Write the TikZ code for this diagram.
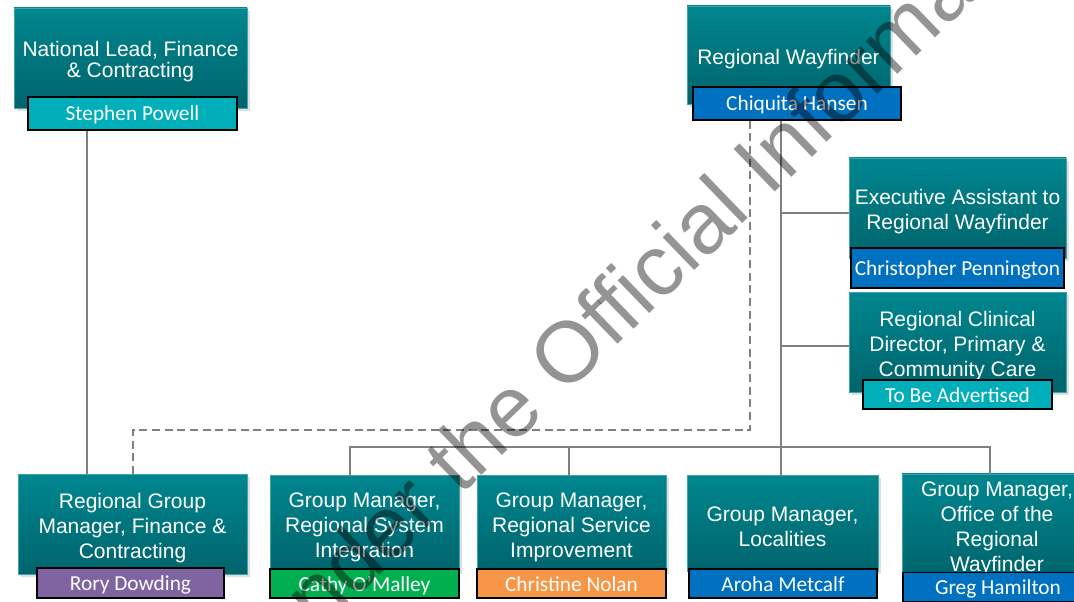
\documentclass[tikz,border=0pt]{standalone}
\usepackage{fontspec}
\setmainfont{Liberation Sans}
\newfontfamily\namefont{Carlito}
\usetikzlibrary{shadows}
\usetikzlibrary{positioning}
\usetikzlibrary{calc}
\definecolor{tealtop}{HTML}{00868F}
\definecolor{tealbot}{HTML}{00646C}
\definecolor{cyanname}{HTML}{00AFBA}
\definecolor{bluename}{HTML}{0070C0}
\definecolor{greenname}{HTML}{00B050}
\definecolor{orangename}{HTML}{F79646}
\definecolor{purplename}{HTML}{8064A2}
\definecolor{linkgray}{HTML}{808080}
\newcommand\toplift{\rule{0pt}{17pt}}

\begin{document}
\begin{tikzpicture}
  [x=0.75pt,y=-0.75pt,
  wh/.style 2 args={minimum width=#1*0.75pt,minimum height=#2*0.75pt},
  role/.style={rectangle,top color=tealtop,bottom color=tealbot,draw=tealtop!75!white,line width=0.4pt,
    text=white,align=center,inner sep=0pt,font=\fontsize{15.75}{18.75}\selectfont,
    drop shadow={shadow xshift=2pt,shadow yshift=-2pt,opacity=0.25}},
  person/.style={rectangle,draw=black,line width=1.1pt,text=white,inner sep=0pt,
    text height=11.25pt,text depth=0pt,font=\namefont\fontsize{16}{18}\selectfont},
  link/.style={linkgray,line width=1.5pt},
  dotlink/.style={link,dash pattern=on 6pt off 3.5pt},
  wmark/.style={rotate=44,inner sep=0pt,text=black,text opacity=0.42,font=\fontsize{64.5}{64.5}\selectfont}]
  \useasboundingbox (0,0) rectangle (1074,602);
  \clip (0,0) rectangle (1074,602);

  % top row
  \node[role,wh={233}{100},font=\fontsize{15.75}{15.75}\selectfont] (natl) at (130.5,58) {\toplift National Lead, Finance\\\& Contracting};
  \node[person,fill=cyanname,wh={209}{33}] (natlname) at (132.5,113.5) {Stephen Powell};
  \node[role,wh={203}{98}] (wayf) at (788.5,55) {\toplift Regional Wayfinder};
  \node[person,fill=bluename,wh={208}{33}] (wayfname) at (797,103.5) {Chiquita Hansen};

  % right column
  \node[role,wh={217}{100}] (exec) at (957.5,208) {\toplift Executive Assistant to\\Regional Wayfinder};
  \node[person,fill=bluename,wh={213}{40}] (execname) at (957.5,268) {Christopher Pennington};
  \node[role,wh={217}{100}] (clin) at (957.5,342) {\toplift Regional Clinical\\Director, Primary \&\\Community Care};
  \node[person,fill=cyanname,wh={189}{29}] (clinname) at (957.5,394.5) {To Be Advertised};

  % bottom row
  \node[role,wh={229}{100}] (rgm) at (132.5,524) {\toplift Regional Group\\Manager, Finance \&\\Contracting};
  \node[person,fill=purplename,wh={187}{30}] (rgmname) at (130.5,583) {Rory Dowding};
  \node[role,wh={189}{96}] (rsi) at (364.5,523) {\toplift Group Manager,\\Regional System\\Integration};
  \node[person,fill=greenname,wh={189}{29}] (rsiname) at (364.5,583.5) {Cathy O’Malley};
  \node[role,wh={189}{96}] (rsimp) at (571.5,523) {\toplift Group Manager,\\Regional Service\\Improvement};
  \node[person,fill=orangename,wh={189}{29}] (rsimpname) at (571.5,583.5) {Christine Nolan};
  \node[role,wh={191}{96}] (loc) at (782.5,523) {\toplift Group Manager,\\Localities};
  \node[person,fill=bluename,wh={188}{29}] (locname) at (783,583.5) {Aroha Metcalf};
  \node[role,wh={190}{100}] (office) at (997,525) {\toplift Group Manager,\\Office of the\\Regional\\Wayfinder};
  \node[person,fill=bluename,wh={190}{29}] (officename) at (998,587) {Greg Hamilton};

  % reporting lines
  \coordinate (natlx) at (87,0);
  \draw[link] (natlname.south -| natlx) -- (rgm.north -| natlx);
  \coordinate (wayfx) at (781,0);
  \draw[link] (wayfname.south -| wayfx) -- (loc.north -| wayfx);
  \coordinate (execin) at ($(exec.west)+(0,5)$);
  \draw[link] (wayfx |- execin) -- (execin);
  \coordinate (clinin) at ($(clin.west)+(0,4)$);
  \draw[link] (wayfx |- clinin) -- (clinin);
  \coordinate (bus1) at (350,447);
  \coordinate (bus2) at (569,447);
  \coordinate (bus4) at (990,447);
  \draw[link] (rsi.north -| bus1) -- (bus1) -- (bus4) -- (office.north -| bus4);
  \draw[link] (bus2) -- (rsimp.north -| bus2);
  \coordinate (dash1) at (750,430);
  \draw[dotlink] (wayfname.south -| dash1) -- (dash1) -| (rgm.north);

  % watermark
  \node[wmark,anchor=base west] (wm2) at (547,413) {\ Official};
  \node[wmark,anchor=base east] (wm1) at (wm2.base west) {Released under the};
  \node[wmark,anchor=base west] (wm3) at (wm2.base east) {\ Information Act};
\end{tikzpicture}
\end{document}
